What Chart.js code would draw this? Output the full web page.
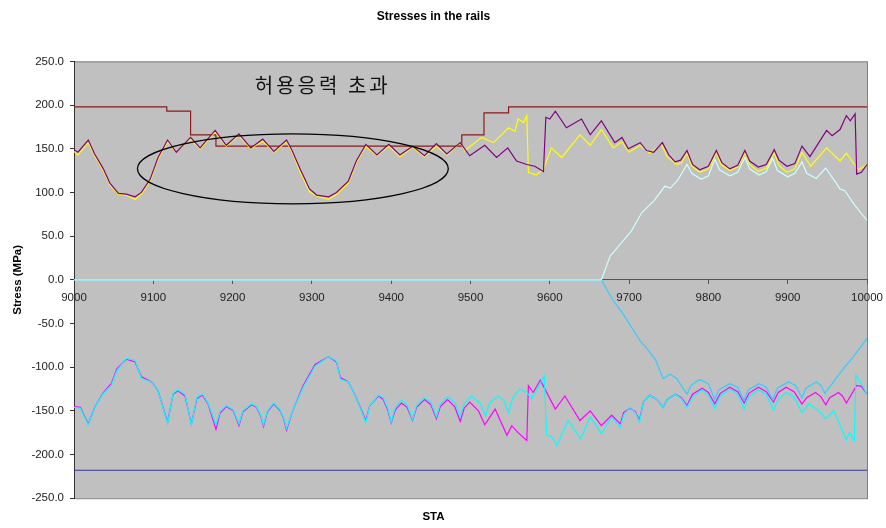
<!DOCTYPE html>
<html>
<head>
<meta charset="utf-8">
<title>Stresses in the rails</title>
<script src="https://cdn.jsdelivr.net/npm/chart.js@4.4.0/dist/chart.umd.min.js"></script>
<style>
    html, body { margin: 0; padding: 0; background: #ffffff; }
</style>
</head>
<body>
<canvas id="stressChart" width="886" height="528"></canvas>
<script>
    // STA values and stresses (MPa)
    var yTicks = [-250, -200, -150, -100, -50, 0, 50, 100, 150, 200, 250];
    var xTicks = [9000, 9100, 9200, 9300, 9400, 9500, 9600, 9700, 9800, 9900, 10000];

    // allowable stress (stepped)
    var staAllow = [9000, 9117, 9147, 9179, 9489, 9517, 9548, 10000];
    var allow    = [198, 193, 166, 153, 166, 191, 198, 198];

    var staPurple = [9000, 9005, 9018, 9026, 9037, 9045, 9056, 9066, 9077, 9085,
                     9096, 9106, 9118, 9129, 9147, 9159, 9178, 9192, 9208, 9223,
                     9238, 9252, 9268, 9275, 9285, 9297, 9306, 9321, 9331, 9346,
                     9356, 9368, 9382, 9397, 9411, 9427, 9442, 9457, 9470, 9487,
                     9499, 9518, 9533, 9547, 9558, 9571, 9581, 9592, 9595, 9600,
                     9607, 9621, 9640, 9651, 9665, 9682, 9691, 9699, 9714, 9722,
                     9731, 9742, 9750, 9758, 9765, 9773, 9780, 9789, 9800, 9810,
                     9817, 9827, 9837, 9846, 9852, 9863, 9873, 9883, 9889, 9899,
                     9909, 9918, 9928, 9949, 9956, 9966, 9974, 9979, 9985, 9987,
                     9993, 10000];
    var purple    = [149, 146, 160, 144, 127, 111, 99, 98, 95, 100,
                     115, 140, 160, 146, 163, 151, 171, 154, 167, 151,
                     161, 147, 160, 148, 127, 104, 97, 95, 100, 113,
                     136, 155, 143, 155, 143, 153, 142, 156, 144, 157,
                     142, 154, 140, 151, 136, 132, 130, 124, 186, 184,
                     193, 174, 184, 166, 182, 157, 163, 150, 157, 148,
                     146, 157, 143, 135, 137, 148, 132, 126, 130, 148,
                     134, 127, 131, 148, 136, 129, 132, 149, 137, 130,
                     133, 153, 141, 171, 165, 172, 188, 182, 190, 121,
                     123, 132];

    var staYellow = [9000, 9005, 9018, 9026, 9037, 9045, 9056, 9066, 9077, 9085,
                     9096, 9106, 9118, 9129, 9147, 9159, 9178, 9192, 9208, 9223,
                     9238, 9252, 9268, 9275, 9285, 9297, 9306, 9321, 9331, 9346,
                     9356, 9368, 9382, 9397, 9411, 9427, 9442, 9457, 9470, 9487,
                     9493, 9514, 9529, 9548, 9556, 9560, 9567, 9571, 9573, 9583,
                     9592, 9602, 9615, 9638, 9651, 9665, 9680, 9691, 9700, 9714,
                     9726, 9741, 9748, 9760, 9766, 9773, 9779, 9789, 9800, 9810,
                     9816, 9827, 9837, 9846, 9852, 9863, 9873, 9883, 9889, 9899,
                     9909, 9918, 9929, 9949, 9966, 9974, 9989, 10000];
    var yellow    = [147, 143, 157, 142, 125, 109, 98, 97, 92, 98,
                     113, 138, 158, 146, 161, 150, 169, 153, 165, 150,
                     159, 146, 158, 146, 124, 101, 96, 92, 98, 111,
                     134, 153, 142, 153, 141, 152, 141, 153, 143, 157,
                     148, 163, 157, 174, 170, 184, 180, 188, 123, 120,
                     127, 151, 140, 166, 154, 172, 151, 158, 146, 154,
                     145, 155, 141, 132, 134, 145, 130, 123, 127, 145,
                     132, 125, 129, 145, 132, 124, 128, 145, 131, 123,
                     127, 146, 130, 151, 136, 145, 126, 132];

    var staPale = [9000, 9665, 9676, 9691, 9703, 9716, 9731, 9745, 9752, 9762,
                   9773, 9779, 9791, 9800, 9808, 9814, 9827, 9837, 9846, 9852,
                   9864, 9873, 9881, 9887, 9900, 9909, 9918, 9924, 9936, 9948,
                   9966, 9972, 9985, 10000];
    var pale    = [0, 0, 27, 43, 56, 77, 90, 107, 105, 115,
                   132, 122, 115, 119, 138, 126, 119, 123, 140, 127,
                   120, 124, 139, 125, 118, 122, 135, 122, 116, 128,
                   104, 102, 85, 68];

    var staMagenta = [9000, 9008, 9018, 9026, 9037, 9047, 9054, 9066, 9077, 9085,
                      9098, 9106, 9118, 9125, 9131, 9140, 9148, 9155, 9162, 9169,
                      9179, 9184, 9192, 9201, 9208, 9213, 9224, 9230, 9235, 9239,
                      9244, 9252, 9260, 9264, 9268, 9275, 9289, 9304, 9321, 9331,
                      9336, 9346, 9354, 9368, 9373, 9384, 9390, 9396, 9400, 9405,
                      9413, 9420, 9427, 9432, 9442, 9450, 9457, 9462, 9471, 9480,
                      9487, 9492, 9499, 9510, 9518, 9531, 9546, 9552, 9560, 9571,
                      9573, 9579, 9588, 9607, 9619, 9638, 9651, 9665, 9678, 9689,
                      9693, 9701, 9708, 9713, 9718, 9726, 9735, 9743, 9748, 9758,
                      9766, 9773, 9780, 9792, 9800, 9808, 9815, 9827, 9837, 9845,
                      9851, 9863, 9873, 9882, 9888, 9898, 9908, 9918, 9924, 9935,
                      9942, 9948, 9953, 9964, 9969, 9974, 9987, 9993, 10000];
    var magenta    = [-145, -146, -165, -146, -129, -119, -102, -91, -94, -111,
                      -117, -127, -163, -131, -127, -133, -165, -136, -132, -142,
                      -171, -153, -145, -150, -167, -151, -143, -146, -155, -168,
                      -151, -142, -150, -158, -172, -152, -121, -97, -88, -94,
                      -112, -117, -131, -161, -144, -133, -137, -150, -164, -149,
                      -141, -146, -161, -146, -137, -143, -159, -145, -137, -145,
                      -162, -147, -140, -150, -166, -148, -178, -167, -175, -184,
                      -121, -129, -115, -148, -133, -161, -150, -167, -155, -165,
                      -152, -147, -151, -161, -140, -132, -137, -146, -137, -131,
                      -135, -144, -131, -124, -129, -142, -130, -123, -128, -141,
                      -130, -123, -128, -140, -129, -123, -128, -142, -135, -129,
                      -134, -143, -135, -129, -133, -141, -121, -122, -131];

    var staCyan = [9000, 9008, 9018, 9026, 9037, 9047, 9054, 9066, 9077, 9085,
                   9098, 9106, 9118, 9125, 9131, 9140, 9148, 9155, 9162, 9169,
                   9179, 9184, 9192, 9201, 9208, 9213, 9224, 9230, 9235, 9239,
                   9244, 9252, 9260, 9264, 9268, 9275, 9289, 9304, 9321, 9331,
                   9336, 9346, 9354, 9368, 9373, 9384, 9390, 9396, 9400, 9405,
                   9413, 9420, 9427, 9432, 9442, 9450, 9457, 9462, 9471, 9480,
                   9487, 9492, 9501, 9512, 9519, 9524, 9535, 9542, 9548, 9553,
                   9562, 9571, 9577, 9593, 9596, 9602, 9609, 9623, 9639, 9651,
                   9665, 9678, 9689, 9693, 9701, 9708, 9713, 9718, 9726, 9735,
                   9743, 9748, 9758, 9766, 9773, 9780, 9792, 9800, 9808, 9815,
                   9827, 9837, 9845, 9851, 9863, 9873, 9882, 9888, 9898, 9908,
                   9918, 9927, 9939, 9948, 9958, 9974, 9978, 9984, 9986, 9993,
                   10000];
    var cyan    = [-146, -147, -166, -146, -130, -121, -104, -90, -92, -113,
                   -117, -127, -164, -130, -126, -131, -166, -134, -131, -141,
                   -166, -151, -144, -149, -165, -150, -142, -145, -154, -166,
                   -150, -141, -149, -157, -170, -152, -123, -99, -88, -93,
                   -114, -117, -131, -163, -144, -132, -135, -148, -163, -146,
                   -138, -143, -160, -144, -135, -140, -157, -142, -134, -140,
                   -157, -142, -133, -141, -156, -141, -133, -138, -152, -136,
                   -125, -129, -136, -110, -178, -179, -190, -161, -182, -157,
                   -176, -157, -169, -155, -146, -152, -163, -140, -132, -137,
                   -146, -137, -131, -136, -146, -134, -126, -132, -147, -133,
                   -125, -131, -148, -134, -126, -131, -149, -137, -129, -134,
                   -152, -142, -150, -159, -150, -183, -175, -184, -109, -119,
                   -131];

    var staSky = [9000, 9665, 9680, 9691, 9714, 9720, 9733, 9743, 9752, 9760,
                  9773, 9778, 9789, 9800, 9808, 9813, 9827, 9837, 9845, 9850,
                  9864, 9873, 9881, 9887, 9901, 9910, 9918, 9923, 9936, 9942,
                  9947, 9970, 9983, 10000];
    var sky    = [0, 0, -24, -37, -70, -76, -91, -113, -108, -113,
                  -131, -121, -114, -119, -137, -126, -119, -123, -138, -126,
                  -119, -123, -137, -124, -117, -121, -135, -124, -117, -121,
                  -130, -102, -88, -67];

    var staLimit = [9000, 10000];
    var limit    = [-218, -218];

    function pts(xs, ys) {
        var out = [];
        for (var i = 0; i < xs.length; i++) {
            out.push({ x: xs[i], y: ys[i] });
        }
        return out;
    }

    // grey plot area with frame, and the hand drawn note (ellipse + korean text)
    var plotFrame = {
        id: 'plotFrame',
        beforeDraw: function (chart) {
            var a = chart.chartArea, c = chart.ctx;
            c.save();
            c.fillStyle = '#c0c0c0';
            c.fillRect(a.left, a.top, a.right - a.left, a.bottom - a.top);
            c.strokeStyle = '#808080';
            c.lineWidth = 1;
            c.strokeRect(a.left + 0.5, a.top + 0.5, a.right - a.left, a.bottom - a.top);
            c.restore();
        },
        afterDatasetsDraw: function (chart) {
            var xs = chart.scales.x, ys = chart.scales.y, c = chart.ctx;
            // ellipse around the exceeded zone, in data units
            var cx = xs.getPixelForValue(9276), cy = ys.getPixelForValue(127);
            var rx = xs.getPixelForValue(9276 + 196) - cx;
            var ry = cy - ys.getPixelForValue(127 + 40);
            c.save();
            c.strokeStyle = '#000000';
            c.lineWidth = 1.3;
            c.beginPath();
            c.ellipse(cx, cy, rx, ry, 0, 0, Math.PI * 2);
            c.stroke();
            c.fillStyle = '#111111';
            c.font = '20px "Noto Sans CJK KR", sans-serif';
            c.letterSpacing = '3px';
            c.textBaseline = 'middle';
            c.textAlign = 'left';
            c.fillText('허용응력 초과', xs.getPixelForValue(9228), ys.getPixelForValue(223));
            c.restore();
        }
    };

    Chart.defaults.font.family = '"Liberation Sans", Arial, sans-serif';
    Chart.defaults.color = '#222222';

    var ctx = document.getElementById('stressChart').getContext('2d');
    var stressChart = new Chart(ctx, {
        type: 'line',
        data: {
            datasets: [
                { label: 'pale', data: pts(staPale, pale), borderColor: '#ccffff' },
                { label: 'sky', data: pts(staSky, sky), borderColor: '#33ccff' },
                { label: 'purple', data: pts(staPurple, purple), borderColor: '#800080' },
                { label: 'yellow', data: pts(staYellow, yellow), borderColor: '#ffff00' },
                { label: 'cyan', data: pts(staCyan, cyan), borderColor: '#00ffff' },
                { label: 'magenta', data: pts(staMagenta, magenta), borderColor: '#ff00ff' },
                { label: 'allow', data: pts(staAllow, allow), borderColor: '#8b1a1a', stepped: 'before' },
                { label: 'limit', data: pts(staLimit, limit), borderColor: '#333399' }
            ]
        },
        options: {
            responsive: false,
            animation: false,
            layout: { padding: { left: 0, right: 19, top: 0, bottom: 0 } },
            elements: {
                point: { radius: 0 },
                line: { borderWidth: 1.2, tension: 0, fill: false }
            },
            plugins: {
                legend: { display: false },
                tooltip: { enabled: false },
                title: {
                    display: true,
                    text: 'Stresses in the rails',
                    color: '#000000',
                    font: { size: 12, weight: 'bold' },
                    padding: { top: 9, bottom: 38 }
                },
                subtitle: {
                    display: true,
                    position: 'bottom',
                    text: 'STA',
                    color: '#000000',
                    font: { size: 11.5, weight: 'bold' },
                    padding: { top: 12, bottom: 4 }
                }
            },
            scales: {
                x: {
                    type: 'linear',
                    min: xTicks[0],
                    max: xTicks[xTicks.length - 1],
                    position: { y: 0 },
                    afterBuildTicks: function (s) {
                        s.ticks = xTicks.map(function (v) { return { value: v }; });
                    },
                    afterFit: function (s) {
                        s.paddingLeft = 0;
                        s.paddingRight = 0;
                    },
                    ticks: {
                        autoSkip: false,
                        maxRotation: 0,
                        padding: 7,
                        font: { size: 11.5 },
                        callback: function (v) { return String(v); }
                    },
                    grid: { drawOnChartArea: false, tickLength: 4, color: '#555555' },
                    border: { color: '#555555' }
                },
                y: {
                    type: 'linear',
                    min: yTicks[0],
                    max: yTicks[yTicks.length - 1],
                    afterBuildTicks: function (s) {
                        s.ticks = yTicks.map(function (v) { return { value: v }; });
                    },
                    afterFit: function (s) { s.width = 74; },
                    ticks: {
                        padding: 6,
                        font: { size: 11.5 },
                        callback: function (v) { return v.toFixed(1); }
                    },
                    grid: { drawOnChartArea: false, tickLength: 4, color: '#333333' },
                    border: { color: '#333333' },
                    title: {
                        display: true,
                        text: 'Stress (MPa)',
                        color: '#000000',
                        font: { size: 11.5, weight: 'bold' },
                        padding: { top: 11, bottom: 0 }
                    }
                }
            }
        },
        plugins: [plotFrame]
    });
</script>
</body>
</html>
